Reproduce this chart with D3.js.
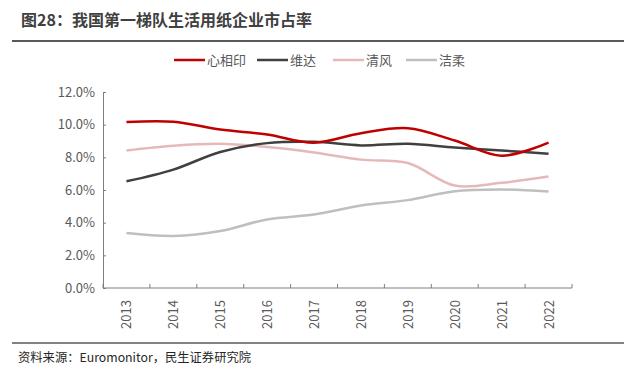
<!DOCTYPE html>
<html>
<head>
<meta charset="utf-8">
<script src="https://cdn.jsdelivr.net/npm/d3@7"></script>
<style>
  body { margin: 0; background: #fff; }
  text { font-family: "Microsoft YaHei", "Noto Sans CJK SC", "Noto Sans", sans-serif; }
</style>
</head>
<body>
<div id="chart"></div>
<script>
var width = 637,
  height = 376;

var years = ["2013","2014","2015","2016","2017","2018","2019","2020","2021","2022"];
var xinxiangyin = [10.16, 10.18, 9.7, 9.4, 8.9, 9.48, 9.78, 9.03, 8.1, 8.9];
var vinda = [6.53, 7.25, 8.33, 8.87, 8.95, 8.73, 8.83, 8.6, 8.42, 8.22];
var qingfeng = [8.42, 8.71, 8.83, 8.63, 8.3, 7.86, 7.65, 6.27, 6.44, 6.82];
var jierou = [3.37, 3.19, 3.49, 4.2, 4.5, 5.05, 5.38, 5.93, 6.03, 5.91];
var yTicks = [0, 2, 4, 6, 8, 10, 12];

var series = [
  { name: "心相印", values: xinxiangyin, color: "#c00000" },
  { name: "维达", values: vinda, color: "#404040" },
  { name: "清风", values: qingfeng, color: "#e6b9b8" },
  { name: "洁柔", values: jierou, color: "#bfbfbf" }
];

var svg = d3.select( "#chart" )
  .append( "svg" )
  .attr( "width", width )
  .attr( "height", height );

// title + rule lines
svg.append( "text" )
  .attr( "x", 21 )
  .attr( "y", 26 )
  .attr( "font-size", 16 )
  .attr( "font-weight", "bold" )
  .attr( "fill", "#404040" )
  .text( "图28：我国第一梯队生活用纸企业市占率" );

svg.append( "line" )
  .attr( "x1", 12 ).attr( "x2", 624 )
  .attr( "y1", 41 ).attr( "y2", 41 )
  .attr( "stroke", "#595959" )
  .attr( "stroke-width", 2 );

svg.append( "line" )
  .attr( "x1", 12 ).attr( "x2", 624 )
  .attr( "y1", 343 ).attr( "y2", 343 )
  .attr( "stroke", "#595959" )
  .attr( "stroke-width", 1.5 );

svg.append( "text" )
  .attr( "x", 18 )
  .attr( "y", 362 )
  .attr( "font-size", 12.3 )
  .attr( "fill", "#262626" )
  .text( "资料来源：Euromonitor，民生证券研究院" );

// scales
var x = d3.scaleBand()
  .domain( years )
  .range( [103, 572] );

var y = d3.scaleLinear()
  .domain( [0, 12] )
  .range( [288, 92] );

var axisColor = "#7f7f7f";

// y axis
var yAxis = svg.append( "g" )
  .attr( "transform", "translate(103,0)" )
  .call( d3.axisLeft( y ).tickValues( yTicks ).tickSizeInner( -3 ).tickSizeOuter( 0 ).tickPadding( 8 )
    .tickFormat( function(d){ return d.toFixed(1) + "%"; } ) );
yAxis.select( ".domain" ).attr( "stroke", axisColor );
yAxis.selectAll( ".tick line" ).attr( "stroke", axisColor );
yAxis.selectAll( "text" )
  .attr( "font-size", 13 )
  .attr( "fill", "#595959" )
  .attr( "font-family", "'Microsoft YaHei', 'Noto Sans CJK SC', sans-serif" );

// x axis, ticks at band edges
var xAxis = svg.append( "g" )
  .attr( "transform", "translate(0,288)" );
xAxis.append( "line" )
  .attr( "x1", 103 ).attr( "x2", 572 )
  .attr( "stroke", axisColor );
xAxis.selectAll( "line.tk" )
  .data( years.concat( ["end"] ) )
  .enter()
  .append( "line" )
  .attr( "class", "tk" )
  .attr( "x1", function(d, i){ return 103 + i * x.step(); } )
  .attr( "x2", function(d, i){ return 103 + i * x.step(); } )
  .attr( "y1", 0 ).attr( "y2", -4 )
  .attr( "stroke", axisColor );
xAxis.selectAll( "text" )
  .data( years )
  .enter()
  .append( "text" )
  .attr( "transform", function(d){ return "translate(" + ( x(d) + x.bandwidth() / 2 + 5 ) + ",12) rotate(-90)"; } )
  .attr( "text-anchor", "end" )
  .attr( "font-size", 13 )
  .attr( "fill", "#595959" )
  .text( function(d){ return d; } );

// lines
var line = d3.line()
  .x( function(d, i){ return x( years[i] ) + x.bandwidth() / 2; } )
  .y( function(d){ return y( d ); } )
  .curve( d3.curveCatmullRom.alpha( 0.5 ) );

svg.append( "g" )
  .selectAll( "path" )
  .data( series.slice().reverse() )
  .enter()
  .append( "path" )
  .attr( "fill", "none" )
  .attr( "stroke", function(d){ return d.color; } )
  .attr( "stroke-width", 2.5 )
  .attr( "d", function(d){ return line( d.values ); } );

// legend
var legendX = [174, 257, 333, 406];
var legend = svg.append( "g" )
  .selectAll( "g" )
  .data( series )
  .enter()
  .append( "g" )
  .attr( "transform", function(d, i){ return "translate(" + legendX[i] + ",60)"; } );
legend.append( "line" )
  .attr( "x1", 0 ).attr( "x2", 31 )
  .attr( "stroke", function(d){ return d.color; } )
  .attr( "stroke-width", 2.5 );
legend.append( "text" )
  .attr( "x", 33 )
  .attr( "y", 5 )
  .attr( "font-size", 13 )
  .attr( "fill", "#595959" )
  .text( function(d){ return d.name; } );
</script>
</body>
</html>
